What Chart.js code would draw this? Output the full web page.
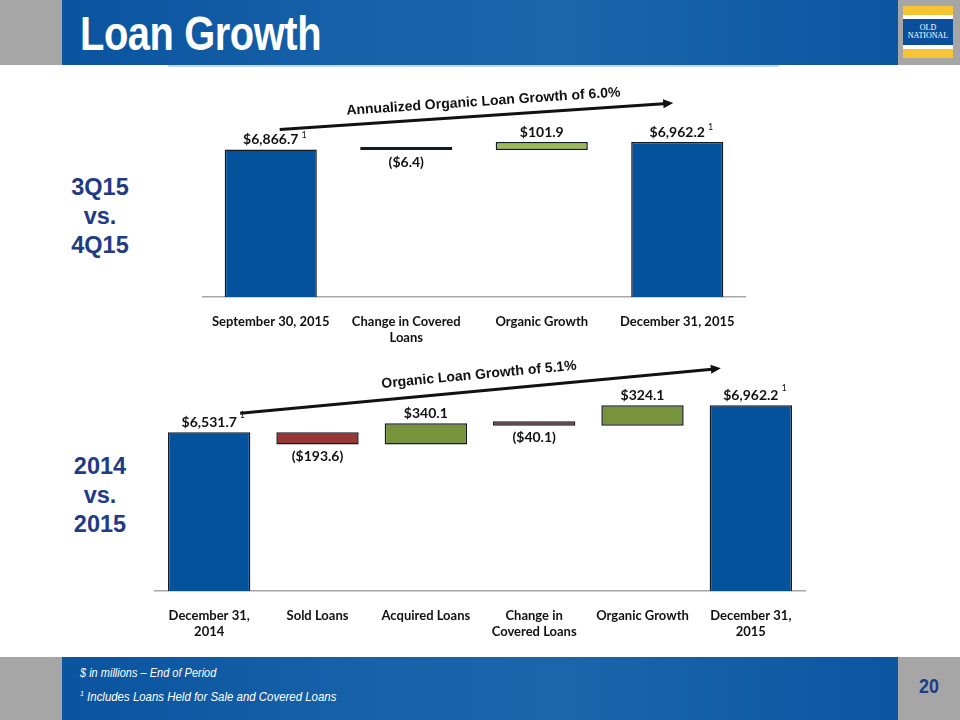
<!DOCTYPE html>
<html>
<head>
<meta charset="utf-8">
<script src="https://cdn.jsdelivr.net/npm/chart.js@4.4.1/dist/chart.umd.min.js"></script>
<style>
  html,body{margin:0;padding:0;}
  body{width:960px;height:720px;position:relative;overflow:hidden;background:#ffffff;font-family:"Liberation Sans",Arial,sans-serif;}
  .gray{position:absolute;background:#a6a6a6;}
  .band{position:absolute;left:62px;width:836px;background:linear-gradient(90deg,#0a54a0 0%,#1661a8 35%,#1a66ab 60%,#0b56a1 100%);}
  #title{position:absolute;left:80px;top:5px;color:#fff;font-family:"Liberation Sans",Arial,sans-serif;font-weight:bold;font-size:48px;line-height:58px;letter-spacing:-0.5px;transform:scaleX(0.83);transform-origin:left top;white-space:nowrap;}
  #rule{position:absolute;left:168px;top:65px;width:611px;height:2px;background:#c9d7ea;}
  .side{position:absolute;left:40px;width:120px;text-align:center;color:#1f3b87;font-weight:bold;font-size:23.5px;line-height:29px;}
  .foot{position:absolute;left:80px;color:#fff;font-style:italic;font-family:"Liberation Sans",sans-serif;font-size:12.5px;transform:scaleX(0.88);transform-origin:left top;white-space:nowrap;}
  #page{position:absolute;left:898px;top:674px;width:62px;text-align:center;color:#1f3b87;font-weight:bold;font-size:21px;font-family:"Liberation Sans",sans-serif;transform:scaleX(0.85);}
  #logo{position:absolute;left:903px;top:6px;width:50px;height:52px;background:#ffffff;}
  #logo .y1{position:absolute;left:0;top:0;width:50px;height:9px;background:#f7c433;}
  #logo .y2{position:absolute;left:0;top:43px;width:50px;height:9px;background:#f7c433;}
  #logo .b{position:absolute;left:0;top:13px;width:50px;height:26px;background:#0b4f9c;color:#fff;font-family:"Liberation Serif",serif;font-size:8px;line-height:8px;text-align:center;padding-top:5px;box-sizing:border-box;}
  canvas{position:absolute;}
</style>
</head>
<body>
<div class="gray" style="left:0;top:0;width:960px;height:65px;"></div>
<div class="band" style="top:0;height:65px;"></div>
<div class="gray" style="left:0;top:657px;width:960px;height:63px;"></div>
<div class="band" style="top:657px;height:63px;"></div>
<div id="title">Loan Growth</div>
<div id="logo"><div class="y1"></div><div class="b">OLD<br>NATIONAL</div><div class="y2"></div></div>
<div id="rule"></div>
<div class="side" style="top:173px;">3Q15<br>vs.<br>4Q15</div>
<div class="side" style="top:452px;">2014<br>vs.<br>2015</div>
<div class="foot" style="top:666px;">$ in millions – End of Period</div>
<div class="foot" style="top:689px;font-size:13px;"><sup style="font-size:8px;">1</sup> Includes Loans Held for Sale and Covered Loans</div>
<div id="page">20</div>

<canvas id="c1" width="640" height="280" style="left:150px;top:70px;width:640px;height:280px;"></canvas>
<canvas id="c2" width="720" height="290" style="left:120px;top:355px;width:720px;height:290px;"></canvas>

<script>
// ---------- DATA ----------
const categoriesQ = [["September 30, 2015"], ["Change in Covered", "Loans"], ["Organic Growth"], ["December 31, 2015"]];
const valuesQ = [6866.7, -6.4, 101.9, 6962.2];
const kindsQ = ["total", "delta", "delta", "total"];
const arrowTextQ = "Annualized Organic Loan Growth of 6.0%";

const categoriesY = [["December 31,", "2014"], ["Sold Loans"], ["Acquired Loans"], ["Change in", "Covered Loans"], ["Organic Growth"], ["December 31,", "2015"]];
const valuesY = [6531.7, -193.6, 340.1, -40.1, 324.1, 6962.2];
const kindsY = ["total", "delta", "delta", "delta", "delta", "total"];
const arrowTextY = "Organic Loan Growth of 5.1%";

// ---------- helpers ----------
function floatingRanges(values, kinds) {
  let run = 0;
  return values.map((v, i) => {
    if (kinds[i] === "total") { run = v; return [0, v]; }
    const lo = run, hi = run + v; run = hi;
    return [Math.min(lo, hi), Math.max(lo, hi)];
  });
}
function fmt(v) {
  const s = "$" + Math.abs(v).toLocaleString("en-US", {minimumFractionDigits: 1, maximumFractionDigits: 1});
  return v < 0 ? "(" + s + ")" : s;
}

const labelPlugin = {
  id: "wfLabels",
  afterDatasetsDraw(chart, args, o) {
    const {ctx} = chart;
    const meta = chart.getDatasetMeta(0);
    const vals = o.values, kinds = o.kinds;
    ctx.save();
    meta.data.forEach((bar, i) => {
      const v = vals[i];
      const txt = fmt(v);
      ctx.font = "bold 14px Lato, 'Open Sans', sans-serif";
      ctx.fillStyle = "#111";
      ctx.textAlign = "center";
      const top = Math.min(bar.y, bar.base), bottom = Math.max(bar.y, bar.base);
      let ty;
      if (v < 0) { ctx.textBaseline = "top"; ty = bottom + 5; }
      else { ctx.textBaseline = "bottom"; ty = top - 3; }
      ctx.fillText(txt, bar.x, ty);
      if (kinds[i] === "total") {
        const w = ctx.measureText(txt).width;
        ctx.font = "9px Lato, sans-serif";
        ctx.textAlign = "left";
        ctx.textBaseline = "bottom";
        ctx.fillText("1", bar.x + w / 2 + o.supDx, ty - o.supDy);
      }
    });
    // arrow
    const xs = chart.scales.x, ys = chart.scales.y;
    const a = o.arrow;
    const x1 = xs.getPixelForValue(0) + a.dx1, y1 = ys.getPixelForValue(a.v1) - a.dy1;
    const x2 = xs.getPixelForValue(vals.length - 1) + a.dx2, y2 = ys.getPixelForValue(a.v2) - a.dy2;
    const ang = Math.atan2(y2 - y1, x2 - x1);
    ctx.strokeStyle = "#111"; ctx.fillStyle = "#111"; ctx.lineWidth = 3;
    ctx.beginPath(); ctx.moveTo(x1, y1); ctx.lineTo(x2 - 6 * Math.cos(ang), y2 - 6 * Math.sin(ang)); ctx.stroke();
    ctx.beginPath();
    ctx.moveTo(x2, y2);
    ctx.lineTo(x2 - 10 * Math.cos(ang) + 4.5 * Math.sin(ang), y2 - 10 * Math.sin(ang) - 4.5 * Math.cos(ang));
    ctx.lineTo(x2 - 10 * Math.cos(ang) - 4.5 * Math.sin(ang), y2 - 10 * Math.sin(ang) + 4.5 * Math.cos(ang));
    ctx.closePath(); ctx.fill();
    const t = a.t;
    const cx = x1 + (x2 - x1) * t, cy = y1 + (y2 - y1) * t;
    ctx.translate(cx, cy); ctx.rotate(ang);
    ctx.font = "bold 14px 'Liberation Sans', Arial, sans-serif";
    ctx.textAlign = "center"; ctx.textBaseline = "middle";
    ctx.fillText(o.arrowText, 0, -a.off);
    ctx.restore();
  }
};

function makeChart(id, cats, values, kinds, cfg) {
  const colors = values.map((v, i) => kinds[i] === "total" ? "#04529c" : (v < 0 ? "#953735" : cfg.green));
  return new Chart(document.getElementById(id), {
    type: "bar",
    data: {
      labels: cats,
      datasets: [{
        data: floatingRanges(values, kinds),
        backgroundColor: colors,
        borderColor: "#141a24",
        borderWidth: 1.5,
        borderSkipped: false,
        minBarLength: cfg.minLen,
        barPercentage: cfg.barPct,
        categoryPercentage: 1
      }]
    },
    options: {
      responsive: false,
      animation: false,
      layout: {padding: cfg.pad},
      plugins: {
        legend: {display: false},
        tooltip: {enabled: false},
        wfLabels: {values: values, kinds: kinds, arrow: cfg.arrow, arrowText: cfg.arrowText, supDx: cfg.supDx, supDy: cfg.supDy}
      },
      scales: {
        x: {
          grid: {display: false},
          border: {color: "#a6a6a6", width: 1.5},
          ticks: {color: "#111", font: {family: "Lato, 'Open Sans', sans-serif", weight: "bold", size: 13}, padding: 9, maxRotation: 0, autoSkip: false},
          afterFit(s) { s.height = cfg.xh; }
        },
        y: {display: false, min: cfg.min, max: cfg.max}
      }
    },
    plugins: [labelPlugin]
  });
}

makeChart("c1", categoriesQ, valuesQ, kindsQ, {
  green: "#9bbb59", barPct: 0.68, min: 5000, max: 7000, minLen: 3,
  pad: {left: 53, right: 45, top: 69, bottom: 0}, xh: 53,
  supDx: 3, supDy: 7,
  arrowText: arrowTextQ,
  arrow: {v1: 6866.7, dy1: 20, dx1: 9, v2: 6962.2, dy2: 39, dx2: -4, t: 0.52, off: 14}
});
makeChart("c2", categoriesY, valuesY, kindsY, {
  green: "#77933c", barPct: 0.76, min: 4000, max: 7000, minLen: 4.5,
  pad: {left: 35, right: 35, top: 48, bottom: 0}, xh: 54,
  supDx: 3, supDy: 10,
  arrowText: arrowTextY,
  arrow: {v1: 6531.7, dy1: 19, dx1: 31, v2: 6962.2, dy2: 37, dx2: -30, t: 0.5, off: 16}
});
</script>
</body>
</html>
